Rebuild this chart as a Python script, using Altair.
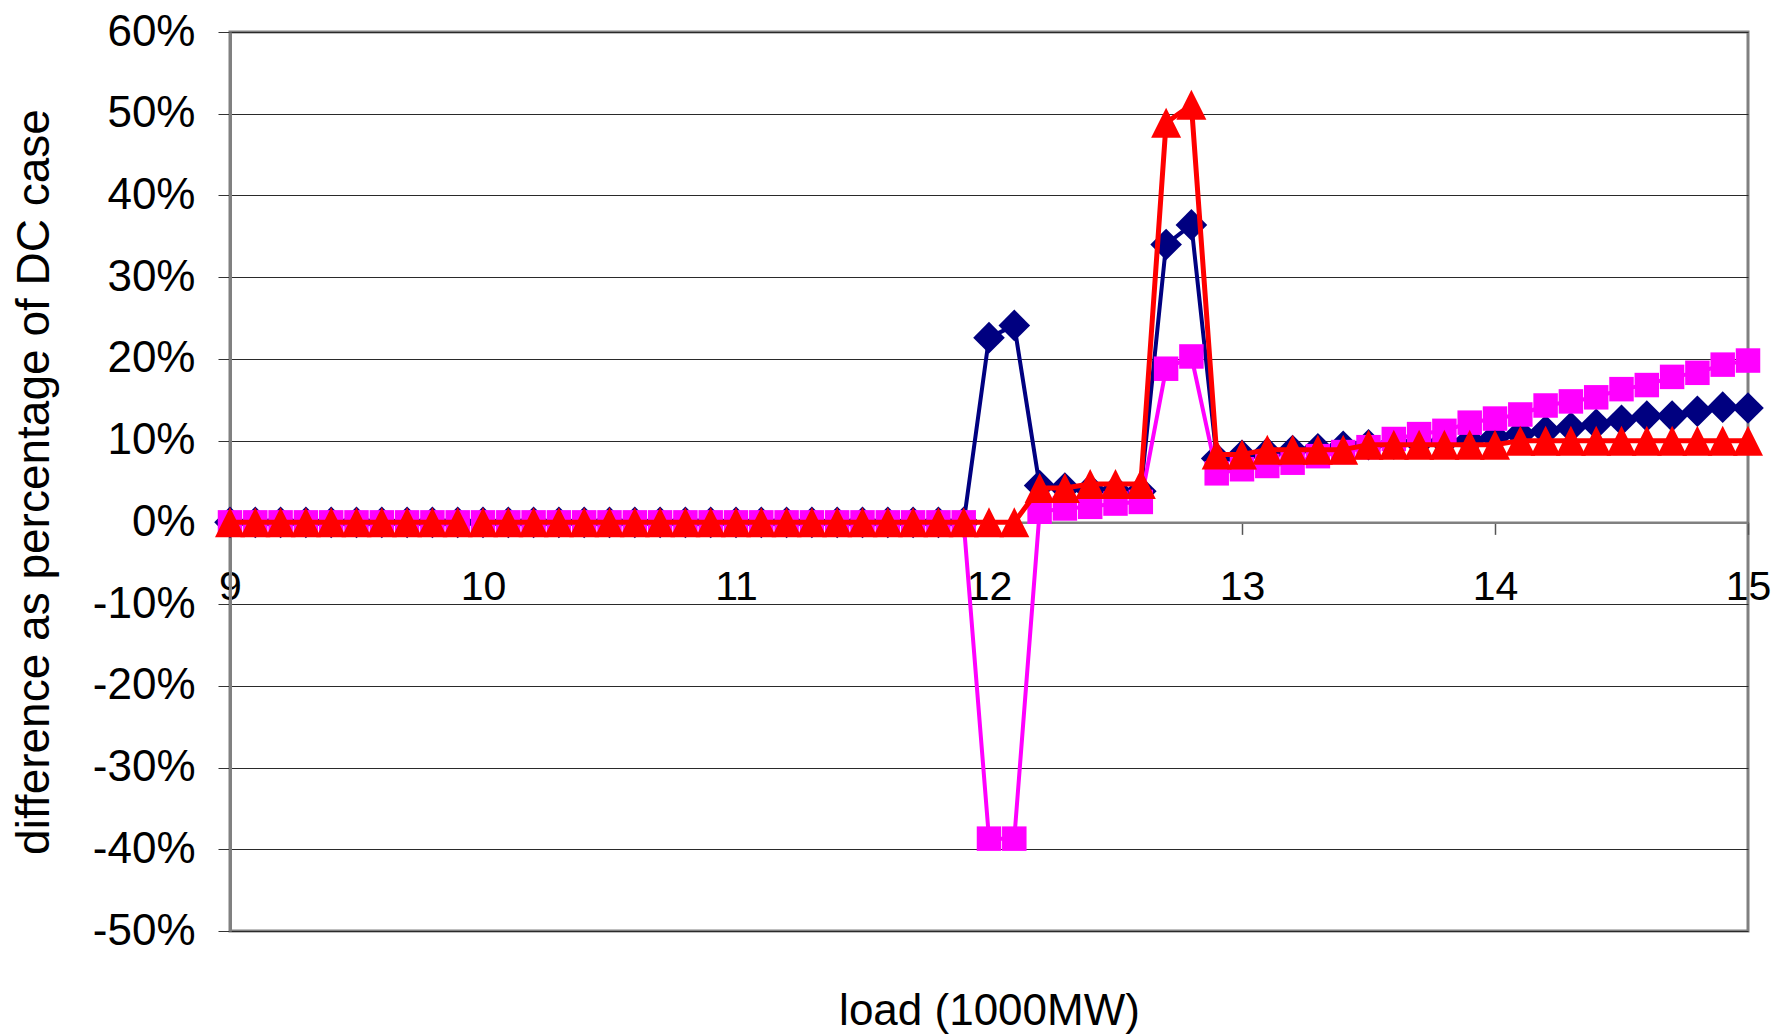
import altair as alt
import pandas as pd

# load (1000MW)
load = [9.0, 9.1, 9.2, 9.3, 9.4, 9.5, 9.6, 9.7, 9.8, 9.9,
        10.0, 10.1, 10.2, 10.3, 10.4, 10.5, 10.6, 10.7, 10.8, 10.9,
        11.0, 11.1, 11.2, 11.3, 11.4, 11.5, 11.6, 11.7, 11.8, 11.9,
        12.0, 12.1, 12.2, 12.3, 12.4, 12.5, 12.6, 12.7, 12.8, 12.9,
        13.0, 13.1, 13.2, 13.3, 13.4, 13.5, 13.6, 13.7, 13.8, 13.9,
        14.0, 14.1, 14.2, 14.3, 14.4, 14.5, 14.6, 14.7, 14.8, 14.9,
        15.0]

zeros30 = [0.0] * 30

navy_vals = zeros30 + [
    22.6, 24.1, 4.5, 4.2, 4.0, 3.9, 3.8, 34.0, 36.4, 7.8,
    8.2, 8.5, 8.8, 9.0, 9.3, 9.5, 9.6, 9.8, 9.9, 10.0,
    10.4, 10.8, 11.2, 11.6, 12.0, 12.5, 13.0, 13.0, 13.6, 14.1,
    14.0]

magenta_vals = zeros30 + [
    -38.7, -38.7, 1.3, 1.7, 1.9, 2.3, 2.5, 18.8, 20.3, 6.0,
    6.5, 6.9, 7.3, 8.1, 8.6, 9.2, 10.2, 10.8, 11.2, 12.2,
    12.7, 13.2, 14.3, 14.8, 15.3, 16.3, 16.8, 17.8, 18.3, 19.3,
    19.8]

red_vals = zeros30 + [
    0.0, 0.0, 4.2, 4.2, 4.7, 4.7, 4.7, 48.9, 51.1, 8.3,
    8.3, 8.9, 8.9, 8.9, 8.9, 9.5, 9.5, 9.5, 9.5, 9.5,
    9.5, 10.0, 10.0, 10.0, 10.0, 10.0, 10.0, 10.0, 10.0, 10.0,
    10.0]

y_ticks = [-50, -40, -30, -20, -10, 0, 10, 20, 30, 40, 50, 60]
x_ticks = [9, 10, 11, 12, 13, 14, 15]

FONT = "Liberation Sans"
W, H = 1518, 899
zero_from_bottom = H * 50.0 / 110.0


def frame(vals, broken):
    # series with a gap between 9.9 and 10.0 get two path segments
    seg = [(1 if (broken and x >= 10.0) else 0) for x in load]
    return pd.DataFrame({"x": load, "v": vals, "seg": seg})


x_enc = alt.X(
    "x:Q",
    scale=alt.Scale(domain=[9, 15], nice=False, zero=False),
    axis=alt.Axis(
        values=x_ticks,
        offset=-zero_from_bottom,
        title="load (1000MW)",
        titleFont=FONT, titleFontSize=44, titleFontWeight="normal",
        titleColor="black",
        titleY=502, titleBaseline="alphabetic",
        labelFont=FONT, labelFontSize=41, labelColor="black",
        labelPadding=33, labelFlush=False, labelOverlap=False,
        tickSize=12, tickColor="#555555", tickWidth=1.5,
        domainColor="#808080", domainWidth=2.5,
        grid=False,
    ),
)

y_enc = alt.Y(
    "v:Q",
    scale=alt.Scale(domain=[-50, 60], nice=False, zero=False),
    axis=alt.Axis(
        values=y_ticks,
        labelExpr="datum.value + '%'",
        title="difference as percentage of DC case",
        titleFont=FONT, titleFontSize=46, titleFontWeight="normal",
        titleColor="black",
        titleX=-196, titleY=H / 2, titleAngle=-90,
        titleBaseline="middle", titleAlign="center",
        labelFont=FONT, labelFontSize=44, labelColor="black",
        labelPadding=23, labelOverlap=False,
        tickSize=12, tickColor="#333333", tickWidth=1,
        domainColor="#808080", domainWidth=3,
        grid=True, gridColor="#2a2a2a", gridWidth=1,
    ),
)

series = [
    (navy_vals, False, "#000080", 4.0, "diamond", 1000),
    (magenta_vals, True, "#FF00FF", 4.0, "square", 600),
    (red_vals, True, "#FF0000", 5.0, "M0,-1L-1,1L1,1Z", 900),
]

layers = []
for vals, broken, color, lw, shape, size in series:
    df = frame(vals, broken)
    base = alt.Chart(df).encode(x=x_enc, y=y_enc)
    layers.append(
        base.mark_line(color=color, strokeWidth=lw, strokeJoin="round").encode(
            detail="seg:N"
        )
    )
    layers.append(
        base.mark_point(
            shape=shape, size=size, filled=True, color=color, opacity=1,
            strokeWidth=0,
        )
    )

chart = (
    alt.layer(*layers)
    .properties(
        width=W,
        height=H,
        autosize=alt.AutoSizeParams(type="none"),
        padding={"left": 230, "top": 32, "right": 32, "bottom": 104},
        background="white",
    )
    .configure_view(stroke="#808080", strokeWidth=3)
)

chart.save("out.html", embed_options={"renderer": "svg", "actions": False})
